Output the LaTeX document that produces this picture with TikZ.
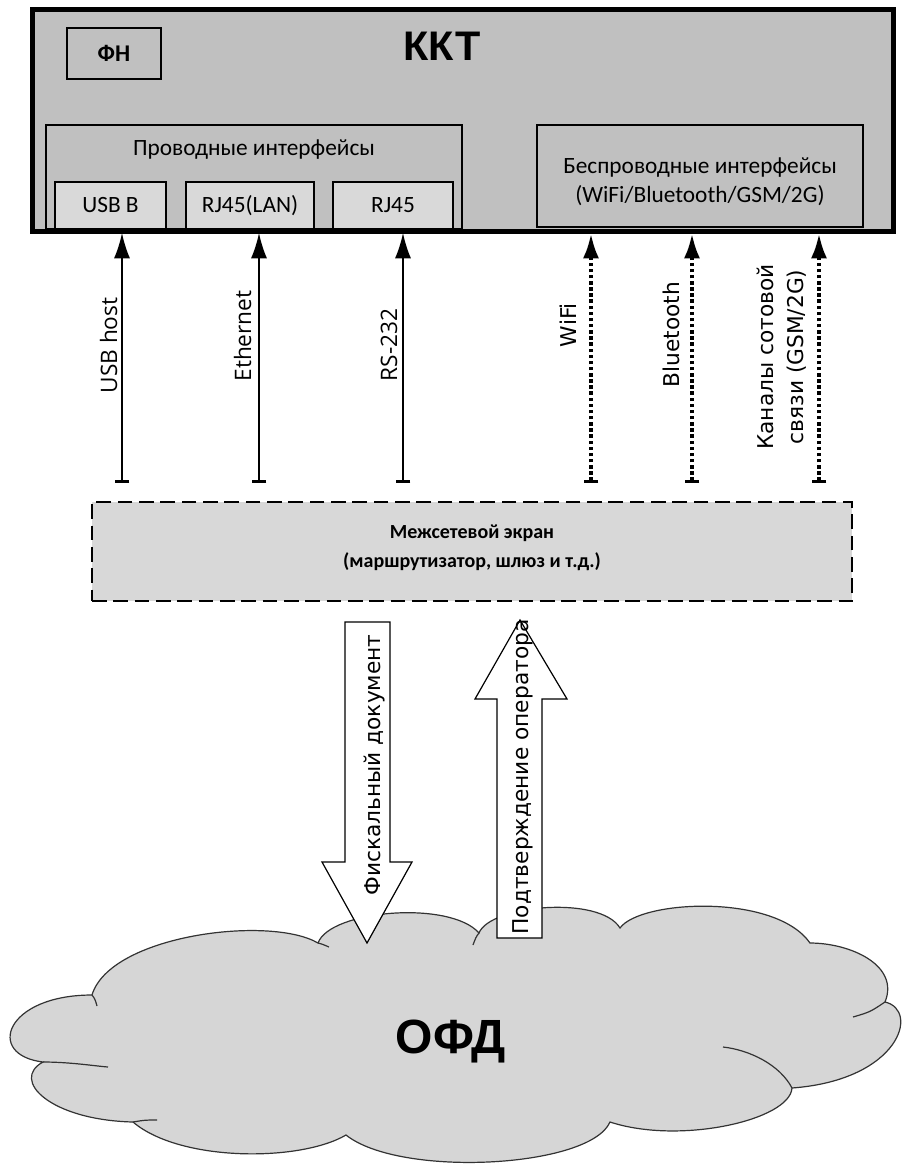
\documentclass[tikz,border=0pt]{standalone}
\usepackage{fontspec}
\setmainfont{Carlito}
\newfontfamily\dejavu{DejaVu Sans}
\newfontfamily\opensans{Open Sans}
\newfontfamily\arialfont{Liberation Sans}
\usetikzlibrary{arrows.meta}
\definecolor{kktgray}{RGB}{192,192,192}
\definecolor{portgray}{RGB}{217,217,217}
\definecolor{fwgray}{RGB}{216,216,216}
\definecolor{cloudgray}{RGB}{214,214,214}

\begin{document}
\begin{tikzpicture}[x=0.75pt,y=-0.75pt]
\tikzset{box/.style = {draw, line width=0.8pt, fill=kktgray, inner sep=0pt}}
\tikzset{port/.style = {box, fill=portgray, minimum height=35.25pt,
		font=\fontsize{17.5}{20}\selectfont}}
\tikzset{lbl/.style = {inner sep=0pt, align=center, font=\fontsize{17.5}{21.5}\selectfont}}
\tikzset{wlbl/.style = {rotate=90, inner sep=0pt, font=\opensans\fontsize{17}{20}\selectfont}}
\tikzset{rlbl/.style = {rotate=90, inner sep=0pt, align=center, font=\dejavu\fontsize{16.3}{22.5}\selectfont}}
\tikzset{wire/.style = {line width=1.1pt, arrows={Bar[width=11pt,line width=2.2pt]-Latex[length=19pt,width=12pt]}}}
\tikzset{radio/.style = {wire, line width=3.3pt, dash pattern=on 2.6pt off 2pt}}
\tikzset{blockarrow/.style = {draw, fill=white, line width=0.9pt, line join=miter}}
\useasboundingbox (0,0) rectangle (905,1168);

% KKT
\node[box, line width=2.6pt, minimum width=645pt, minimum height=165.75pt] (kkt) at (463,120.5) {};
\node[box, minimum width=70.5pt, minimum height=38.25pt,
	font=\bfseries\fontsize{18}{20}\selectfont] (fn) at (114,53.5) {ФН};
\node[inner sep=0pt, font=\arialfont\bfseries\fontsize{31}{33}\selectfont, anchor=base] (title) at (442,60) {ККТ};
\node[box, minimum width=312pt, minimum height=78pt] (wired) at (254,177) {};
\node[box, minimum width=244.5pt, minimum height=76.5pt] (wireless) at (700,176) {};
\node[lbl] (wiredlbl) at (254,150) {Проводные интерфейсы};
\node[lbl] (wirelesslbl) at (700,182) {Беспроводные интерфейсы\\(WiFi/Bluetooth/GSM/2G)};
\node[port, minimum width=83.25pt] (usbb) at (110.5,205.5) {USB B};
\node[port, minimum width=96pt] (lan) at (250,205.5) {RJ45(LAN)};
\node[port, minimum width=90pt] (rj) at (393,205.5) {RJ45};
\draw[line width=2.6pt] (kkt.north west) rectangle (kkt.south east);

% firewall
\node[draw, fill=fwgray, line width=1.5pt, dash pattern=on 11pt off 5pt,
	minimum width=570pt, minimum height=74.25pt] (fw) at (472,551.5) {};
\node[lbl, font=\bfseries\fontsize{15}{21.5}\selectfont] (fwlbl) at (472,548)
	{Межсетевой экран\\(маршрутизатор, шлюз и т.д.)};

% ends of the links
\coordinate (usblo) at (122,483);  \coordinate (usbhi) at (122,233);
\coordinate (ethlo) at (259,483);  \coordinate (ethhi) at (259,233);
\coordinate (rslo) at (403,483);   \coordinate (rshi) at (403,233);
\coordinate (wifilo) at (591,483); \coordinate (wifihi) at (591,233);
\coordinate (btlo) at (692,483);   \coordinate (bthi) at (692,233);
\coordinate (gsmlo) at (819,483);  \coordinate (gsmhi) at (819,233);

%links
\draw[wire] (usblo) -- (usbhi);
\draw[wire] (ethlo) -- (ethhi);
\draw[wire] (rslo) -- (rshi);
\draw[radio] (wifilo) -- (wifihi);
\draw[radio] (btlo) -- (bthi);
\draw[radio] (gsmlo) -- (gsmhi);

\node[wlbl] (usbhost) at (108.5,345.5) {USB host};
\node[wlbl] (eth) at (242.5,336) {Ethernet};
\node[wlbl] (rs) at (389,345) {RS-232};
\node[rlbl] (wifi) at (568.5,325) {WiFi};
\node[rlbl] (bt) at (671.5,334.5) {Bluetooth};
\node[rlbl] (gsm) at (782,357) {Каналы сотовой\\связи (GSM/2G)};

% OFD cloud
\path[fill=cloudgray, draw=black!80, line width=0.9pt] (92,995)
	.. controls (110,935) and (270,915) .. (318,943)
	.. controls (330,910) and (450,900) .. (479,933)
	.. controls (490,905) and (600,895) .. (620,928)
	.. controls (640,900) and (775,893) .. (810,943)
	.. controls (850,943) and (900,965) .. (885,1002)
	.. controls (920,1010) and (900,1080) .. (792,1088)
	.. controls (790,1120) and (680,1145) .. (610,1122)
	.. controls (590,1168) and (400,1178) .. (346,1135)
	.. controls (300,1162) and (180,1162) .. (133,1122)
	.. controls (50,1120) and (10,1080) .. (43,1062)
	.. controls (-15,1055) and (5,995) .. (92,995) -- cycle;
\draw[draw=black!80, line width=0.9pt] (43,1062) .. controls (70,1062) and (95,1066) .. (108,1067);
\draw[draw=black!80, line width=0.9pt] (133,1122) .. controls (145,1120) .. (157,1120);
\draw[draw=black!80, line width=0.9pt] (92,995) .. controls (95,999) .. (97,1006);
\draw[draw=black!80, line width=0.9pt] (318,943) .. controls (322,944) .. (329,947);
\draw[draw=black!80, line width=0.9pt] (479,933) .. controls (476,937) .. (473,945);
\draw[draw=black!80, line width=0.9pt] (885,1002) .. controls (870,1012) .. (853,1017);
\draw[draw=black!80, line width=0.9pt] (792,1088) .. controls (780,1065) and (750,1050) .. (723,1047);
\node[inner sep=0pt, font=\arialfont\bfseries\fontsize{36}{40}\selectfont, anchor=base] (ofd) at (451,1053) {ОФД};

% data flows
\draw[blockarrow] (345,622) -- (390,622) -- (390,862) -- (412,862) -- (367,943)
	-- (322,862) -- (345,862) -- cycle;
\draw[blockarrow] (497,938) -- (542,938) -- (542,699) -- (567,699) -- (520,620)
	-- (475,699) -- (497,699) -- cycle;
\node[rlbl] (fisc) at (375,765) {Фискальный документ};
\node[rlbl] (ack) at (523,777) {Подтверждение оператора};
\end{tikzpicture}
\end{document}
